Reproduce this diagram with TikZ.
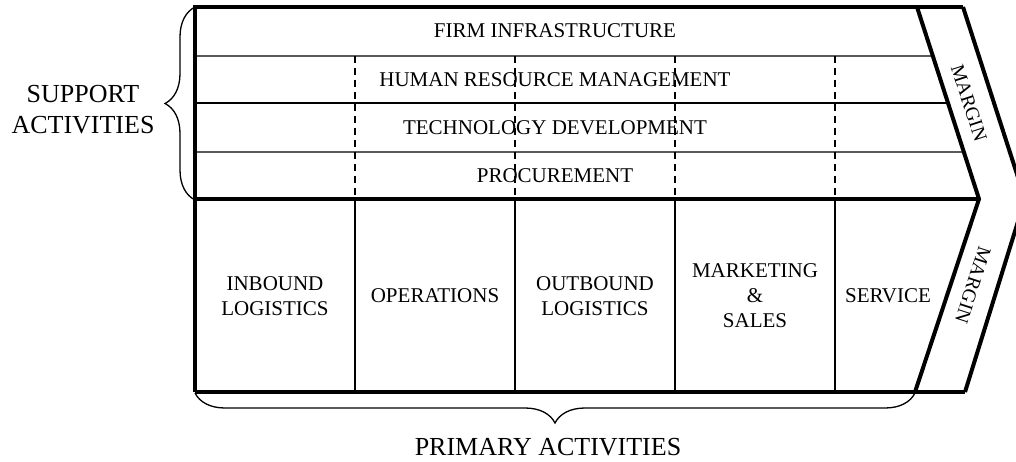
\documentclass[tikz,border=0pt]{standalone}
\usepackage{fontspec}
\setmainfont{Liberation Serif}
\usetikzlibrary{calc,decorations.pathreplacing}

\begin{document}
\begin{tikzpicture}[
        x=1pt,y=-1pt,
        thickline/.style={line width=4pt,line join=miter},
        thinline/.style={line width=1.3pt},
        dashline/.style={line width=1.5pt,dash pattern=on 7pt off 5pt},
        celltext/.style={font=\fontsize{21}{25}\selectfont,align=center,inner sep=0pt},
        margintext/.style={font=\fontsize{19.5}{23}\selectfont,inner sep=0pt},
        bigtext/.style={font=\fontsize{26}{31}\selectfont,align=center,inner sep=0pt},
        mybrace/.style={decorate,decoration={brace,amplitude=30pt},line width=1.3pt}
        ]
        \useasboundingbox (0,0) rectangle (1016,461);

        % corners of the chain and of the margin chevron
        \coordinate (tl) at (195,7);
        \coordinate (ml) at (195,199);
        \coordinate (bl) at (195,392);
        \coordinate (ia) at (917,7);
        \coordinate (ib) at (979,199);
        \coordinate (ic) at (915,392);
        \coordinate (oa) at (963,7);
        \coordinate (ob) at (1025,199);
        \coordinate (oc) at (965,392);

        % rows of the support activities
        \foreach \y in {56,103,152}
            \draw[thinline] (195,\y) -- ($(ia)!{(\y-7)/192}!(ib)$);
        \foreach \x in {355,515,675,835}{
            \draw[dashline] (\x,56) -- (\x,199);
            \draw[thinline] (\x,199) -- (\x,392);
        }

        \draw[thickline] (bl) -- (tl) -- (oa);
        \draw[thickline] (ml) -- (ib);
        \draw[thickline] (bl) -- (oc);
        \draw[thickline] (ia) -- (ib) -- (ic);
        \draw[thickline] (oa) -- (ob) -- (oc);

        \foreach \n/\y/\txt in {% name/y/text
            firm/31/FIRM INFRASTRUCTURE,
            hrm/80/HUMAN RESOURCE MANAGEMENT,
            tech/128/TECHNOLOGY DEVELOPMENT,
            proc/176/PROCUREMENT}
            \node[celltext] (\n) at (555,\y) {\txt};

        \foreach \n/\x/\txt in {% name/x/text
            inbound/275/{INBOUND\\LOGISTICS},
            ops/435/OPERATIONS,
            outbound/595/{OUTBOUND\\LOGISTICS},
            sales/755/{MARKETING\\\&\\SALES},
            service/888/SERVICE}
            \node[celltext] (\n) at (\x,296) {\txt};

        \node[margintext,rotate=-72] (margin1) at (969,103) {MARGIN};
        \node[margintext,rotate=-108] (margin2) at (973,285) {MARGIN};

        \draw[mybrace] (195,200) -- (195,7);
        \draw[mybrace] (915,393) -- (195,393);
        \node[bigtext] (support) at (83,110) {SUPPORT\\ACTIVITIES};
        \node[bigtext] (primary) at (548,447) {PRIMARY ACTIVITIES};
\end{tikzpicture}
\end{document}
